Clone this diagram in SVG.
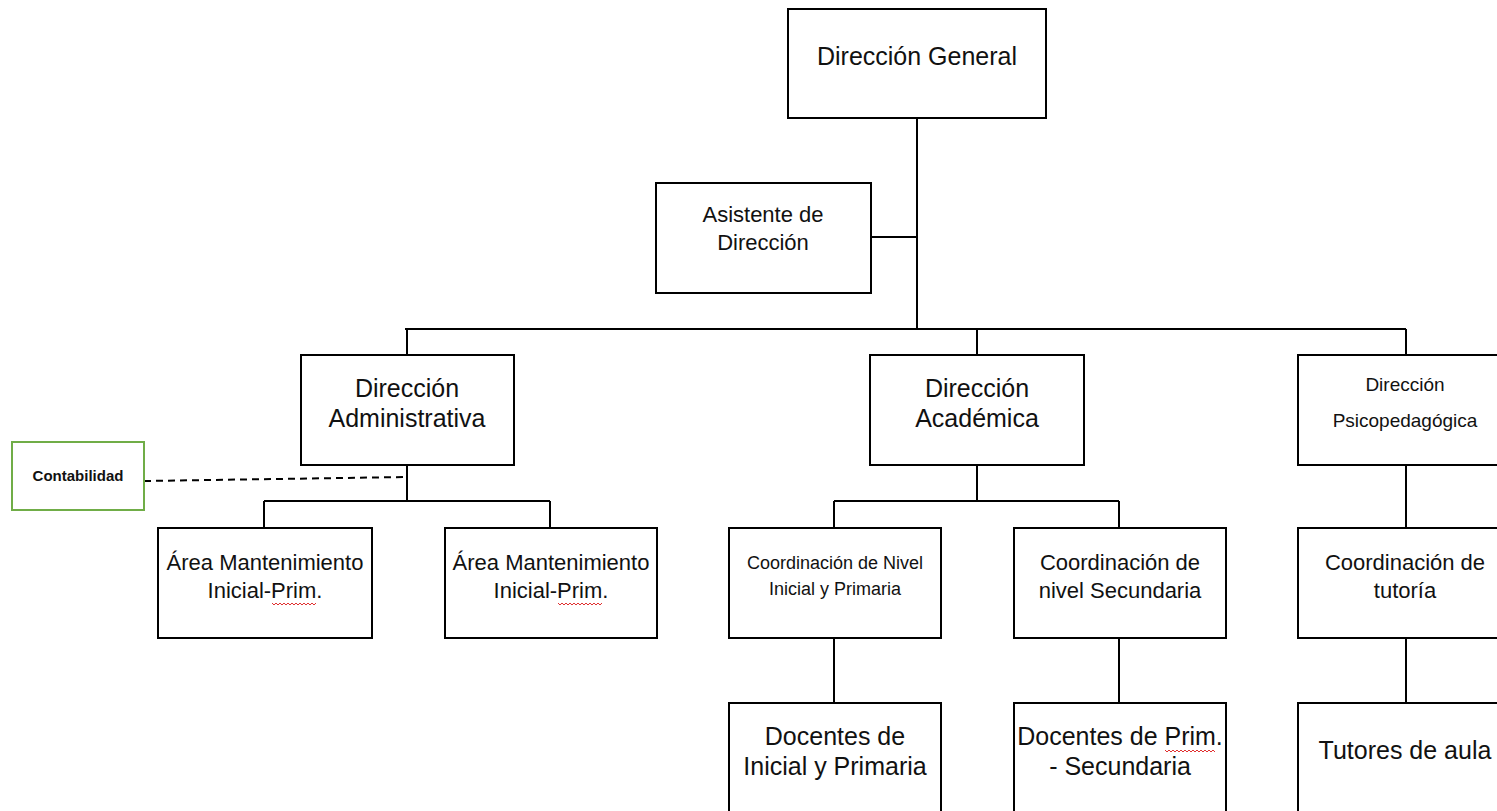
<svg xmlns="http://www.w3.org/2000/svg" width="1497" height="811" viewBox="0 0 1497 811">
<style>
.box{fill:#fff;stroke:#000;stroke-width:2}
.gbox{fill:#fff;stroke:#70ad47;stroke-width:2}
.ln{fill:none;stroke:#000;stroke-width:2}
.dash{fill:none;stroke:#000;stroke-width:2;stroke-dasharray:7 5}
text{font-family:"Liberation Sans",Arial,sans-serif;fill:#111;text-anchor:middle}
.l{font-size:25px}
.m{font-size:22px}
.s{font-size:18px}
.p{font-size:19px}
.b{font-size:15px;font-weight:bold}
.sq{fill:none;stroke:#e03030;stroke-width:1}
</style>
<rect width="1497" height="811" fill="#fff"/>
<g id="connectors">
<path class="ln" d="M917 118V329M871 237H917M405 329H1406M407 329V355M977 329V355M1406 329V355"/>
<path class="ln" d="M407 465V501M264 501H550M264 501V528M550 501V528"/>
<path class="ln" d="M977 465V501M834 501H1119M834 501V528M1119 501V528"/>
<path class="ln" d="M834 638V703M1119 638V703M1406 465V528M1406 638V703"/>
<path class="dash" d="M144 481L407 477"/>
</g>
<g id="dir-general"><rect class="box" x="788" y="9" width="258" height="109"/><text class="l" x="917" y="65">Dirección General</text></g>
<g id="asistente"><rect class="box" x="656" y="183" width="215" height="110"/><text class="m" x="763" y="222">Asistente de</text><text class="m" x="763" y="250">Dirección</text></g>
<g id="dir-admin"><rect class="box" x="301" y="355" width="213" height="110"/><text class="l" x="407" y="397">Dirección</text><text class="l" x="407" y="427">Administrativa</text></g>
<g id="dir-acad"><rect class="box" x="870" y="355" width="214" height="110"/><text class="l" x="977" y="397">Dirección</text><text class="l" x="977" y="427">Académica</text></g>
<g id="dir-psico"><rect class="box" x="1298" y="355" width="210" height="110"/><text class="p" x="1405" y="391">Dirección</text><text class="p" x="1405" y="427">Psicopedagógica</text></g>
<g id="contabilidad"><rect class="gbox" x="12" y="442" width="132" height="68"/><text class="b" x="78" y="481">Contabilidad</text></g>
<g id="area1"><rect class="box" x="158" y="528" width="214" height="110"/><text class="m" x="265" y="570">Área Mantenimiento</text><text class="m" x="265" y="598">Inicial-Prim.</text></g>
<g id="area2"><rect class="box" x="445" y="528" width="212" height="110"/><text class="m" x="551" y="570">Área Mantenimiento</text><text class="m" x="551" y="598">Inicial-Prim.</text></g>
<g id="coord-ini"><rect class="box" x="729" y="528" width="212" height="110"/><text class="s" x="835" y="569">Coordinación de Nivel</text><text class="s" x="835" y="595">Inicial y Primaria</text></g>
<g id="coord-sec"><rect class="box" x="1014" y="528" width="212" height="110"/><text class="m" x="1120" y="570">Coordinación de</text><text class="m" x="1120" y="598">nivel Secundaria</text></g>
<g id="coord-tut"><rect class="box" x="1298" y="528" width="210" height="110"/><text class="m" x="1405" y="570">Coordinación de</text><text class="m" x="1405" y="598">tutoría</text></g>
<g id="doc-ini"><rect class="box" x="729" y="703" width="212" height="120"/><text class="l" x="835" y="745">Docentes de</text><text class="l" x="835" y="775">Inicial y Primaria</text></g>
<g id="doc-sec"><rect class="box" x="1014" y="703" width="212" height="120"/><text class="l" x="1120" y="745">Docentes de Prim.</text><text class="l" x="1120" y="775">- Secundaria</text></g>
<g id="tutores"><rect class="box" x="1298" y="703" width="210" height="120"/><text class="l" x="1405" y="759">Tutores de aula</text></g>
<g id="spellmarks">
<path class="sq" d="M272 603l2 2 2-2 2 2 2-2 2 2 2-2 2 2 2-2 2 2 2-2 2 2 2-2 2 2 2-2 2 2 2-2 2 2 2-2 2 2 2-2 2 2 2-2"/>
<path class="sq" d="M558 603l2 2 2-2 2 2 2-2 2 2 2-2 2 2 2-2 2 2 2-2 2 2 2-2 2 2 2-2 2 2 2-2 2 2 2-2 2 2 2-2 2 2 2-2"/>
<path class="sq" d="M1165 750l2 2 2-2 2 2 2-2 2 2 2-2 2 2 2-2 2 2 2-2 2 2 2-2 2 2 2-2 2 2 2-2 2 2 2-2 2 2 2-2 2 2 2-2 2 2 2-2 2 2"/>
</g>
</svg>
